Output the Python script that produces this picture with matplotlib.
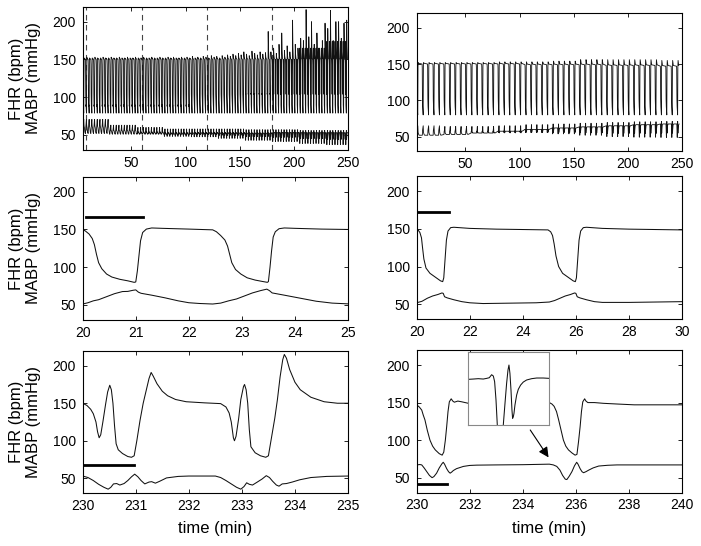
import numpy as np
import matplotlib
matplotlib.use('Agg')
import matplotlib.pyplot as plt

plt.rcParams['font.family'] = ['Liberation Sans', 'DejaVu Sans']

# ── 1. Data ──────────────────────────────────────────────────
# middle-left panel, 20-25 min
ml_t    = [20.00, 20.05, 20.12, 20.18, 20.22, 20.26, 20.30, 20.36, 20.45, 20.55, 20.70, 20.85, 20.97,
           21.00, 21.03, 21.06, 21.09, 21.13, 21.20, 21.30, 21.50, 22.00, 22.45, 22.52, 22.60, 22.68,
           22.73, 22.77, 22.81, 22.88, 22.98, 23.10, 23.25, 23.40, 23.48, 23.50, 23.53, 23.56, 23.59,
           23.63, 23.70, 23.80, 24.00, 24.50, 25.00]
ml_fhr  = [150, 148, 144, 138, 130, 117, 106, 98, 91, 87, 84, 82, 80,
           80.5, 95, 115, 135, 146, 150.5, 152, 151.5, 150.5, 149.5, 147, 142, 136,
           128, 117, 106, 97, 91, 86, 83, 81, 80, 81, 100, 122, 140,
           147, 151, 152, 151.5, 150.5, 150]
ml_bp_t = [20.00, 20.10, 20.20, 20.30, 20.45, 20.60, 20.75, 20.85, 20.95, 21.00, 21.05, 21.10, 21.30,
           21.55, 21.80, 22.00, 22.20, 22.45, 22.60, 22.75, 22.90, 23.05, 23.20, 23.35, 23.47, 23.52,
           23.57, 23.80, 24.10, 24.40, 24.70, 25.00]
ml_bp   = [51.3, 53, 55.5, 57, 61, 65, 67.8, 68, 69.5, 70, 67, 65.5, 63,
           59.5, 55.5, 53, 52, 51.3, 52.5, 55.5, 58, 62, 66, 69, 71, 69,
           66, 63, 59, 55, 52.5, 51.5]

# middle-right panel, 20-30 min
mr_t    = [20.00, 20.06, 20.12, 20.18, 20.22, 20.27, 20.35, 20.50, 20.70, 20.90, 20.98, 21.02, 21.07,
           21.12, 21.18, 21.28, 21.40, 22.00, 23.00, 24.00, 24.95, 25.05, 25.12, 25.18, 25.25, 25.35,
           25.50, 25.70, 25.90, 25.98, 26.02, 26.07, 26.12, 26.18, 26.28, 26.40, 27.00, 28.00, 29.00, 30.00]
mr_fhr  = [150, 148, 145, 138, 125, 110, 98, 91, 86, 81, 80, 85, 110,
           135, 147, 151.5, 152, 150.5, 149.5, 149, 148.5, 146, 141, 130, 114, 100,
           91, 86, 81, 80, 85, 110, 135, 147, 151.5, 152, 150.5, 149.5, 149, 148.5]
mr_bp_t = [20.00, 20.20, 20.40, 20.60, 20.80, 20.95, 21.00, 21.05, 21.15, 21.40, 21.70, 22.00, 22.50,
           23.50, 24.50, 25.00, 25.20, 25.40, 25.60, 25.80, 25.95, 26.00, 26.05, 26.15, 26.40, 26.70,
           27.00, 28.00, 29.00, 30.00]
mr_bp   = [52, 54, 58, 61, 63, 65, 64.5, 60, 58.5, 56, 53.5, 52, 51,
           51.5, 52, 53, 55, 58, 61, 63, 65, 64.5, 60, 58.5, 56, 53.5,
           52.5, 52.5, 53, 53.5]

# bottom-left panel, 230-235 min
bl_t    = [230.00, 230.08, 230.15, 230.20, 230.25, 230.28, 230.31, 230.34, 230.38, 230.43, 230.47,
           230.51, 230.54, 230.57, 230.60, 230.63, 230.67, 230.75, 230.85, 230.92, 230.97, 231.02,
           231.08, 231.14, 231.20, 231.25, 231.29, 231.33, 231.40, 231.50, 231.60, 231.75, 231.95,
           232.30, 232.60, 232.70, 232.76, 232.80, 232.84, 232.86, 232.89, 232.94, 232.98, 233.03,
           233.05, 233.08, 233.11, 233.14, 233.17, 233.25, 233.35, 233.45, 233.50, 233.56, 233.62,
           233.67, 233.72, 233.77, 233.80, 233.84, 233.90, 234.00, 234.10, 234.30, 234.55, 234.80, 235.00]
bl_fhr  = [150, 147, 142, 136, 125, 112, 104, 108, 125, 148, 165,
           174, 168, 150, 120, 96, 88, 83, 79, 78, 80, 100,
           127, 150, 168, 183, 191, 186, 176, 166, 160, 155, 152,
           150.5, 149.5, 145, 137, 125, 104, 100, 106, 130, 155, 172,
           175, 168, 150, 115, 92, 84, 80, 78, 80, 105, 130,
           155, 185, 208, 215, 210, 195, 178, 168, 158, 152, 150, 150]
bl_bp_t = [230.00, 230.10, 230.20, 230.30, 230.40, 230.48, 230.53, 230.58, 230.64, 230.70, 230.78,
           230.85, 230.92, 230.98, 231.04, 231.10, 231.17, 231.25, 231.30, 231.37, 231.45, 231.58,
           231.80, 232.00, 232.50, 232.60, 232.70, 232.80, 232.90, 232.98, 233.04, 233.09, 233.14,
           233.20, 233.28, 233.38, 233.46, 233.52, 233.58, 233.65, 233.70, 233.76, 233.84, 233.95,
           234.09, 234.30, 234.60, 235.00]
bl_bp   = [53, 51, 47, 42, 38, 35.5, 38, 42.5, 43, 41, 43,
           47, 52, 55.5, 52, 47, 42.5, 45, 45.5, 43.5, 46, 50.5,
           52.5, 53, 53, 51, 47, 42.5, 38, 35.5, 39, 44, 42,
           41, 44.5, 49, 53.5, 51, 46, 41, 39.5, 42.5, 43, 45,
           48, 51, 52.5, 53]

# bottom-right panel, 230-240 min
br_t    = [230.00, 230.10, 230.19, 230.25, 230.31, 230.40, 230.50, 230.60, 230.70, 230.85, 230.96,
           231.02, 231.08, 231.13, 231.18, 231.23, 231.30, 231.36, 231.42, 231.55, 231.70, 231.95,
           232.50, 233.50, 234.50, 235.00, 235.10, 235.18, 235.27, 235.35, 235.45, 235.53, 235.62,
           235.72, 235.85, 235.97, 236.04, 236.10, 236.16, 236.21, 236.26, 236.33, 236.38, 236.45,
           236.70, 237.04, 237.60, 238.20, 239.00, 240.00]
br_fhr  = [147, 144, 140, 133, 127, 113, 100, 92, 87, 82, 80,
           84, 100, 118, 138, 151, 155, 152, 150.5, 152, 151, 149,
           149, 149, 149, 150, 148, 145, 138, 127, 112, 100, 92,
           87, 83, 80, 81, 98, 118, 138, 151, 155, 152, 150,
           150, 149, 148, 147, 147, 147]
br_bp_t = [230.00, 230.12, 230.19, 230.28, 230.38, 230.48, 230.58, 230.65, 230.75, 230.85, 230.95,
           231.00, 231.05, 231.13, 231.20, 231.26, 231.32, 231.38, 231.50, 231.76, 232.00, 232.26,
           233.00, 234.00, 235.00, 235.15, 235.28, 235.40, 235.50, 235.60, 235.66, 235.75, 235.85,
           235.95, 236.03, 236.08, 236.16, 236.23, 236.29, 236.38, 236.48, 236.65, 236.86, 237.20,
           237.55, 238.50, 240.00]
br_bp   = [67, 67.5, 67, 63, 58, 53, 50, 51.5, 56, 63, 68.5,
           70.5, 68, 62, 58, 56, 57.5, 59.5, 62, 65, 66.3, 66.7,
           67, 67.3, 68, 67, 65, 60, 53, 48, 47.5, 52, 58,
           66, 70.5, 68, 62, 58, 56.6, 58, 60, 63, 65.5, 66.5,
           67, 67, 67]

# inset (zoomed trace, arbitrary units)
inset_x = [0, 0.062, 0.123, 0.185, 0.226, 0.259, 0.288, 0.309, 0.325, 0.342, 0.358, 0.370, 0.412,
           0.432, 0.453, 0.473, 0.490, 0.502, 0.514, 0.527, 0.539, 0.547, 0.556, 0.564, 0.576,
           0.597, 0.617, 0.646, 0.679, 0.720, 0.782, 0.844, 0.926, 1.0]
inset_y = [0.623, 0.627, 0.632, 0.627, 0.636, 0.645, 0.686, 0.668, 0.591, 0.341, 0.0, -0.159, -0.159,
           0.0, 0.295, 0.568, 0.75, 0.818, 0.705, 0.477, 0.205, 0.091, 0.114, 0.159, 0.273,
           0.409, 0.486, 0.545, 0.586, 0.614, 0.632, 0.641, 0.641, 0.636]

# top-left overview: one contraction every 2.5 min from 5 min
tl_period = 2.5
tl_start  = 5
tl_peak = [152, 153, 152, 152, 153, 152, 152, 153, 152, 152, 153, 152, 152, 153,
           152, 152, 153, 152, 152, 153, 152, 152, 153, 152, 152, 153, 152, 152,
           153, 152, 152, 153, 152, 153, 152, 152, 153, 152, 153, 152, 154, 152,
           153, 152, 154, 153, 152, 155, 153, 154, 152, 155, 153, 156, 154, 157,
           155, 158, 156, 160, 157, 155, 161, 158, 156, 160, 157, 159, 187, 160,
           165, 158, 170, 185, 162, 168, 160, 202, 170, 165, 178, 175, 216, 180,
           200, 170, 185, 165, 175, 198, 191, 215, 175, 200, 200, 178, 198, 202]
# values per 25-min block starting at 5 min
tl_hump    = [88, 88, 88, 88, 90, 95, 105, 150, 165, 174]
tl_bp_base = [52, 51, 51, 51, 52, 52, 52, 53, 53, 53]
tl_bp_up   = [18.7, 12, 9, 7, 6, 6, 5, 4, 3, 3]
tl_bp_dip  = [0, 3, 5, 7, 8, 10, 12, 14, 16, 17.6]
tl_marks   = [8, 60, 120, 180]

# top-right overview: one contraction every 5 min from 5 min
tr_period = 5
tr_start  = 5
tr_n      = 49
tr_fhr_base = [150, 150, 150, 150, 149, 149, 149, 148, 148, 147]
tr_peak     = [152, 152, 152, 153, 153, 154, 156, 156, 156, 155]
tr_bp_base  = [52, 53, 55, 57.5, 60, 62, 63.5, 65, 66.5, 67.5]
tr_bp_up    = [13, 11, 9, 7.5, 6.5, 5.5, 5, 4.5, 4, 3.5]
tr_bp_dip   = [0, 2, 4, 7, 9, 12, 15, 18, 20, 21]

# black bars (contraction duration) and arrow
bar_ml = ([20.06, 21.14], 166)
bar_mr = ([20.06, 21.20], 172.5)
bar_bl = ([230.0, 230.97], 67.8)
bar_br = ([230.06, 231.13], 41.6)
arrow_tail = (234.28, 113.5)
arrow_head = (234.97, 77)


# ── 2. Build the overview traces from one contraction shape each ──
def blk(t0, start):
    return min(int((t0 - start) // 25), 9)

tl_t, tl_fhr, tl_bpt, tl_bp = [], [], [], []
for k, p in enumerate(tl_peak):
    t0 = tl_start + k * tl_period
    b = blk(t0, tl_start)
    h = tl_hump[b]
    rel = [0, 0.15, 0.3, 0.5, 0.6, 0.95, 1.1, 1.3, 1.6, 2.0]
    val = [150, 143, 104, h, 90, 79, 127, p, 150 + 0.35 * (p - 150), 151]
    tl_t += [t0 + r for r in rel]
    tl_fhr += val
    bb, u, d = tl_bp_base[b], tl_bp_up[b], tl_bp_dip[b]
    rel = [0, 0.25, 0.48, 0.64, 0.8, 0.97, 1.08, 1.17, 1.3, 1.6, 2.0]
    val = [bb, bb + 0.3*u - 0.3*d, bb + 0.6*u - d, bb + 0.8*u - 0.6*d, bb + 0.9*u - 0.5*d,
           bb + u, bb + 0.75*u - 0.3*d, bb + 0.6*u - 0.6*d, bb + 0.5*u - 0.45*d,
           bb + 0.4*u - 0.1*d, bb + 0.1*u]
    tl_bpt += [t0 + r for r in rel]
    tl_bp += val

tr_t, tr_fhr, tr_bpt, tr_bp = [], [], [], []
for k in range(tr_n):
    t0 = tr_start + k * tr_period
    b = blk(t0, tr_start)
    fb, p = tr_fhr_base[b], tr_peak[b]
    rel = [0, 0.12, 0.22, 0.3, 0.5, 0.97, 1.07, 1.18, 1.38, 2.0]
    val = [fb, fb - 5, fb - 25, 102, 91, 80, 110, 147, p, fb + 1]
    tr_t += [t0 + r for r in rel]
    tr_fhr += val
    bb, u, d = tr_bp_base[b], tr_bp_up[b], tr_bp_dip[b]
    rel = [0, 0.2, 0.38, 0.6, 0.75, 1.0, 1.13, 1.26, 1.38, 1.76, 2.3]
    val = [bb, bb, bb + 0.5*u - 0.5*d, bb + 0.7*u - d, bb + 0.8*u - 0.65*d, bb + u,
           bb + 0.55*u - 0.3*d, bb + 0.3*u - 0.65*d, bb + 0.25*u - 0.45*d,
           bb + 0.1*u - 0.1*d, bb]
    tr_bpt += [t0 + r for r in rel]
    tr_bp += val


# ── 3. Figure ────────────────────────────────────────────────
W, H = 701, 546
fig = plt.figure(figsize=(W / 100, H / 100), dpi=100)

def axes_px(x0, y0, x1, y1):
    return fig.add_axes([x0 / W, 1 - y1 / H, (x1 - x0) / W, (y1 - y0) / H])

LW = 0.75
TC = '#111111'

def style(ax, xlim, xticks):
    ax.set_xlim(*xlim)
    ax.set_ylim(30, 220)
    ax.set_xticks(xticks)
    ax.set_yticks([50, 100, 150, 200])
    ax.tick_params(direction='in', top=True, right=True, length=3, width=0.6,
                   labelsize=10, pad=4)
    ax.tick_params(axis='y', pad=5)
    for s in ax.spines.values():
        s.set_linewidth(0.8)

ax_tl = axes_px(82.7, 6.6, 348, 150.1)
ax_tr = axes_px(416.7, 13.2, 682, 151.2)
ax_ml = axes_px(82.7, 176.6, 348, 320.1)
ax_mr = axes_px(416.7, 175.9, 682, 319.4)
ax_bl = axes_px(82.7, 350.7, 348, 493.3)
ax_br = axes_px(416.7, 350.0, 682, 492.7)

# overview panels
for m in tl_marks:
    ax_tl.axvline(m, color='#444444', lw=0.8, ls=(0, (5, 4)))
ax_tl.plot(tl_t, tl_fhr, color=TC, lw=0.6)
ax_tl.plot(tl_bpt, tl_bp, color=TC, lw=0.6)
style(ax_tl, (5, 250), [50, 100, 150, 200, 250])

ax_tr.plot(tr_t, tr_fhr, color=TC, lw=0.6)
ax_tr.plot(tr_bpt, tr_bp, color=TC, lw=0.6)
style(ax_tr, (5, 250), [50, 100, 150, 200, 250])

# detail panels
ax_ml.plot(ml_t, ml_fhr, color=TC, lw=LW)
ax_ml.plot(ml_bp_t, ml_bp, color=TC, lw=LW)
ax_ml.plot(bar_ml[0], [bar_ml[1]] * 2, color='k', lw=2)
style(ax_ml, (20, 25), np.arange(20, 26, 1))

ax_mr.plot(mr_t, mr_fhr, color=TC, lw=LW)
ax_mr.plot(mr_bp_t, mr_bp, color=TC, lw=LW)
ax_mr.plot(bar_mr[0], [bar_mr[1]] * 2, color='k', lw=2)
style(ax_mr, (20, 30), np.arange(20, 31, 2))

ax_bl.plot(bl_t, bl_fhr, color=TC, lw=LW)
ax_bl.plot(bl_bp_t, bl_bp, color=TC, lw=LW)
ax_bl.plot(bar_bl[0], [bar_bl[1]] * 2, color='k', lw=2)
style(ax_bl, (230, 235), np.arange(230, 236, 1))
ax_bl.set_xlabel('time (min)', fontsize=12, labelpad=6)

ax_br.plot(br_t, br_fhr, color=TC, lw=LW)
ax_br.plot(br_bp_t, br_bp, color=TC, lw=LW)
ax_br.plot(bar_br[0], [bar_br[1]] * 2, color='k', lw=2)
style(ax_br, (230, 240), np.arange(230, 241, 2))
ax_br.set_xlabel('time (min)', fontsize=12, labelpad=6)
ax_br.annotate('', xy=arrow_head, xytext=arrow_tail,
               arrowprops=dict(arrowstyle='-|>', color='k', lw=0.8, mutation_scale=15,
                               shrinkA=0, shrinkB=0))

# inset
ax_in = axes_px(468.3, 351.7, 549.3, 425)
ax_in.plot(inset_x, inset_y, color=TC, lw=LW)
ax_in.set_xlim(0, 1)
ax_in.set_ylim(0, 1)
ax_in.set_xticks([]); ax_in.set_yticks([])
for s in ax_in.spines.values():
    s.set_color('#888888'); s.set_linewidth(0.8)

# y labels on left column
for ax in (ax_tl, ax_ml, ax_bl):
    pos = ax.get_position()
    fig.text(25 / W, pos.y0 + pos.height / 2, 'FHR (bpm)\nMABP (mmHg)',
             rotation=90, ha='center', va='center', fontsize=12, linespacing=1.15)

fig.savefig('out.png', dpi=100)
